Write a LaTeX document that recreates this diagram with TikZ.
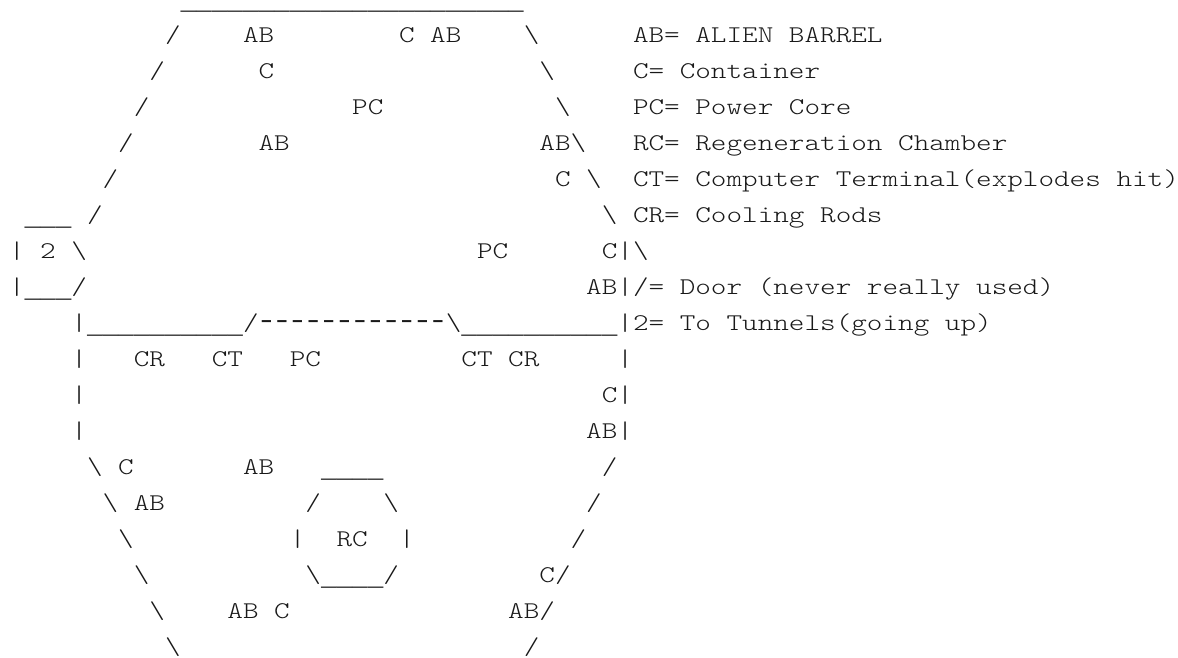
\documentclass[tikz,border=0pt]{standalone}
\usepackage{fontspec}
\usepackage{graphicx}
\newfontfamily\asciifont[FakeStretch=1.238]{Latin Modern Mono Light}
\newfontfamily\barfont{Liberation Mono}
\tikzset{
  asciitext/.style={anchor=base west,inner sep=0pt,outer sep=0pt,text=black!90,font=\fontsize{18pt}{18pt}\asciifont},
  asciiunder/.style={asciitext,font=\fontsize{19.5pt}{19.5pt}\barfont,yshift=-2.4pt},
  asciidash/.style={asciitext,anchor=base,font=\fontsize{19.5pt}{19.5pt}\barfont,yshift=1.2pt},
}
\newcommand{\T}[3]{\node[asciitext] (r#1c#2) at ({9+15.6*#2},{650.5-36*#1}) {#3};}
\newcommand{\BS}{\textbackslash}
\newcommand{\US}[3]{\node[asciiunder] (r#1c#2) at ({9+15.6*#2},{650.5-36*#1}) {\detokenize{#3}};}
\begin{document}
\begin{tikzpicture}[x=0.75pt,y=0.75pt]
\useasboundingbox (0,0) rectangle (1178,657);
\fill[white] (0,0) rectangle (1178,657);
\US{0}{11}{______________________}
\T{1}{10}{/}\T{1}{15}{AB}\T{1}{25}{C AB}\T{1}{33}{\BS}\T{1}{40}{AB= ALIEN BARREL}
\T{2}{9}{/}\T{2}{16}{C}\T{2}{34}{\BS}\T{2}{40}{C= Container}
\T{3}{8}{/}\T{3}{22}{PC}\T{3}{35}{\BS}\T{3}{40}{PC= Power Core}
\T{4}{7}{/}\T{4}{16}{AB}\T{4}{34}{AB\BS}\T{4}{40}{RC= Regeneration Chamber}
\T{5}{6}{/}\T{5}{35}{C \BS}\T{5}{40}{CT= Computer Terminal(explodes hit)}
\US{6}{1}{___}\T{6}{5}{/}\T{6}{38}{\BS}\T{6}{40}{CR= Cooling Rods}
\T{7}{0}{|}\T{7}{2}{2}\T{7}{4}{\BS}\T{7}{30}{PC}\T{7}{38}{C|\BS}
\T{8}{0}{|}\US{8}{1}{___}\T{8}{4}{/}\T{8}{37}{AB|/= Door (never really used)}
\T{9}{4}{|}\US{9}{5}{__________}\T{9}{15}{/}
\foreach \c in {16,...,27} {\node[asciidash] (r9d\c) at ({16.8+15.6*\c},{650.5-36*9}) {\scalebox{1.3}[1]{-}};}
\T{9}{28}{\BS}\US{9}{29}{__________}\T{9}{39}{|2= To Tunnels(going up)}
\T{10}{4}{|}\T{10}{8}{CR}\T{10}{13}{CT}\T{10}{18}{PC}\T{10}{29}{CT CR}\T{10}{39}{|}
\T{11}{4}{|}\T{11}{38}{C|}
\T{12}{4}{|}\T{12}{37}{AB|}
\T{13}{5}{\BS}\T{13}{7}{C}\T{13}{15}{AB}\US{13}{20}{____}\T{13}{38}{/}
\T{14}{6}{\BS}\T{14}{8}{AB}\T{14}{19}{/}\T{14}{24}{\BS}\T{14}{37}{/}
\T{15}{7}{\BS}\T{15}{18}{|}\T{15}{21}{RC}\T{15}{25}{|}\T{15}{36}{/}
\T{16}{8}{\BS}\T{16}{19}{\BS}\US{16}{20}{____}\T{16}{24}{/}\T{16}{34}{C/}
\T{17}{9}{\BS}\T{17}{14}{AB C}\T{17}{32}{AB/}
\T{18}{10}{\BS}\T{18}{33}{/}
\end{tikzpicture}
\end{document}
